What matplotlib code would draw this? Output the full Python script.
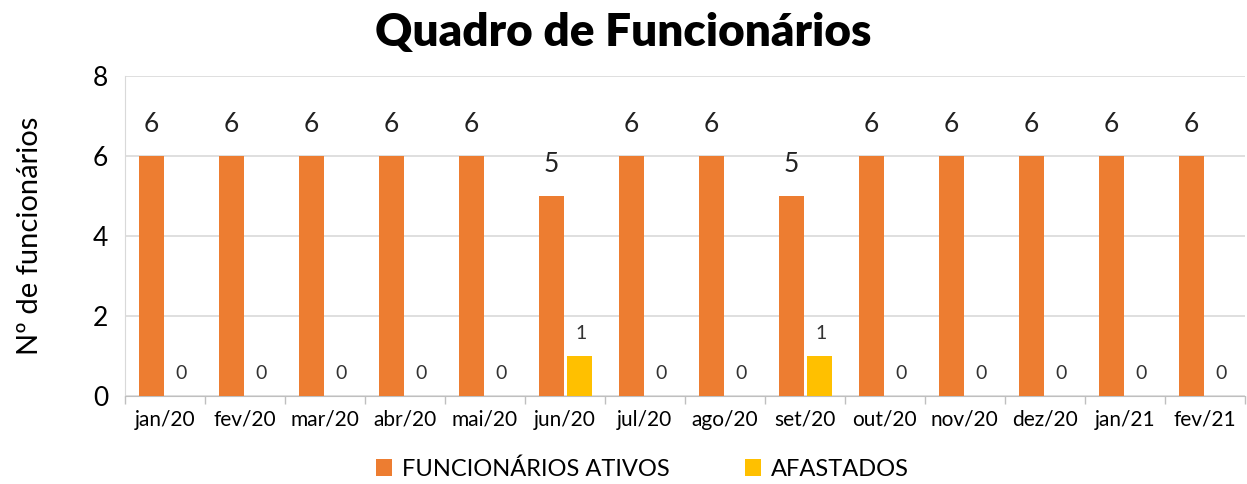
import numpy as np
import matplotlib.pyplot as plt

plt.rcParams['font.family'] = ['Lato', 'DejaVu Sans']

# dados
meses = ['jan/20', 'fev/20', 'mar/20', 'abr/20', 'mai/20', 'jun/20', 'jul/20',
         'ago/20', 'set/20', 'out/20', 'nov/20', 'dez/20', 'jan/21', 'fev/21']
ativos = [6, 6, 6, 6, 6, 5, 6, 6, 5, 6, 6, 6, 6, 6]
afastados = [0, 0, 0, 0, 0, 1, 0, 0, 1, 0, 0, 0, 0, 0]

cor_ativos = '#ED7D31'
cor_afast = '#FFC000'

fig = plt.figure(figsize=(12.47, 4.84), dpi=100)
ax = fig.add_axes([0.1002, 0.1818, 0.898, 0.6612])

x = np.arange(len(meses))
w = 0.31
b1 = ax.bar(x - w / 2 - 0.01, ativos, w, color=cor_ativos, label='FUNCIONÁRIOS ATIVOS', zorder=3)
b2 = ax.bar(x + w / 2 + 0.03, afastados, w, color=cor_afast, label='AFASTADOS', zorder=3)

for r, v in zip(b1, ativos):
    ax.annotate(str(v), (r.get_x() + r.get_width() / 2, v), xytext=(0, 14),
                textcoords='offset points', ha='center', va='bottom', fontsize=19, color='#222222')
for r, v in zip(b2, afastados):
    ax.annotate(str(v), (r.get_x() + r.get_width() / 2, v), xytext=(1, 10),
                textcoords='offset points', ha='center', va='bottom', fontsize=14, color='#333333')

ax.set_xlim(-0.5, len(meses) - 0.5)
ax.set_ylim(0, 8)
ax.set_yticks([0, 2, 4, 6, 8])
ax.tick_params(axis='y', labelsize=19, length=0, pad=12)
ax.set_xticks(x)
ax.set_xticklabels(meses, fontsize=15)
ax.tick_params(axis='x', length=0, pad=10)
ax.set_xticks(np.arange(-0.5, len(meses)), minor=True)
ax.tick_params(axis='x', which='minor', length=6, color='#bfbfbf', width=1)
ax.grid(axis='y', color='#d9d9d9', linewidth=1.2, zorder=0)
for s in ['top', 'right']:
    ax.spines[s].set_visible(False)
ax.spines['left'].set_color('#d9d9d9')
ax.spines['bottom'].set_color('#bfbfbf')
ax.set_ylabel('Nº de funcionários', fontsize=21, labelpad=36)

fig.suptitle('Quadro de Funcionários', fontsize=33, fontweight='heavy', y=0.975)
fig.legend(loc='lower center', ncol=2, frameon=False, fontsize=17, bbox_to_anchor=(0.515, -0.035),
           handlelength=0.7, handleheight=0.7, columnspacing=3.2, handletextpad=0.4)

fig.savefig('out.png', dpi=100)
